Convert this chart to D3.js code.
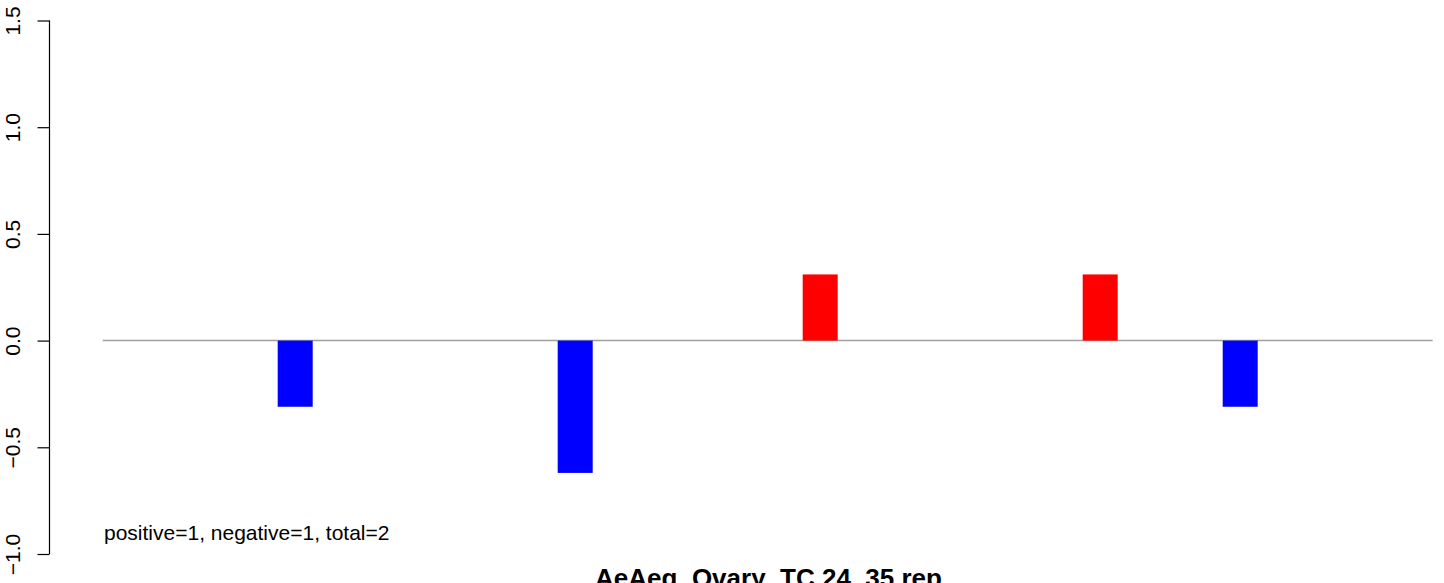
<!DOCTYPE html>
<html><head><meta charset="utf-8">
<script src="https://d3js.org/d3.v7.min.js"></script>
<style>html,body{margin:0;padding:0;background:#fff;}svg{display:block;}</style>
</head><body>
<script>
// Data
const positions = [6, 14, 21, 29, 33];        // bar index along sequence (bar spans pos-1..pos)
const values    = [-0.31, -0.62, 0.31, 0.31, -0.31];
const seqLength = 38;
const yTicks    = [-1.0, -0.5, 0.0, 0.5, 1.0, 1.5];
const yTickLabels = ["\u22121.0", "\u22120.5", "0.0", "0.5", "1.0", "1.5"];
const title = "AeAeg_Ovary_TC.24_35.rep";
const summary = "positive=1, negative=1, total=2";

const W = 1444, H = 583;
const svg = d3.select("body").append("svg").attr("width", W).attr("height", H)
  .style("font-family", "'Liberation Sans', Arial, Helvetica, sans-serif");

const x = d3.scaleLinear().domain([0, seqLength]).range([102.7, 1432.7]);
const y = d3.scaleLinear().domain([-1, 1.5]).range([554, 20.5]);

// zero line
svg.append("line").attr("x1", x(0)).attr("x2", x(seqLength))
  .attr("y1", y(0)).attr("y2", y(0))
  .attr("stroke", "#a0a0a0").attr("stroke-width", 1.5);

// bars
svg.selectAll("rect.bar").data(positions.map((p, i) => ({p, v: values[i]})))
  .enter().append("rect").attr("class", "bar")
  .attr("x", d => x(d.p - 1)).attr("width", d => x(d.p) - x(d.p - 1))
  .attr("y", d => y(Math.max(0, d.v))).attr("height", d => Math.abs(y(d.v) - y(0)))
  .attr("fill", d => d.v >= 0 ? "#ff0000" : "#0000ff");

// y axis
const axis = d3.axisLeft(y).tickValues(yTicks).tickSize(12)
  .tickFormat(d => yTickLabels[yTicks.indexOf(d)]);
const g = svg.append("g").attr("transform", "translate(49.5,0)").call(axis);
g.select(".domain").attr("stroke", "#000").attr("stroke-width", 1.2).attr("d", `M0,${y(1.5)}V${y(-1)}`);
g.selectAll(".tick line").attr("stroke", "#000").attr("stroke-width", 1.2);
g.selectAll(".tick text").attr("fill", "#000")
  .style("font-size", "21px")
  .attr("text-anchor", "middle")
  .attr("transform", "translate(-30,0) rotate(-90)")
  .attr("x", 0).attr("y", 0).attr("dy", 0);

// summary text
svg.append("text").attr("x", 104).attr("y", 540).text(summary)
  .style("font-size", "21px").attr("fill", "#000");

// title
svg.append("text").attr("x", 768.5).attr("y", 587).attr("text-anchor", "middle")
  .style("font-size", "26px").style("font-weight", "bold").attr("fill", "#000").text(title);
</script>
</body></html>
